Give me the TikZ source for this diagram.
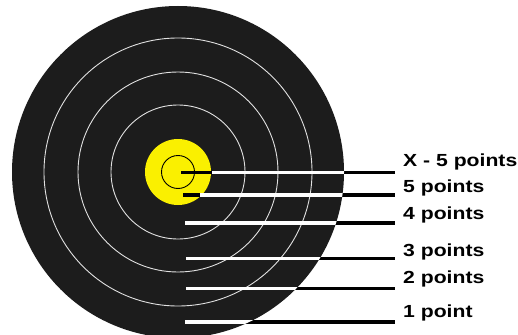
\documentclass[tikz,border=0pt]{standalone}
\usepackage{fontspec}
\setmainfont{Liberation Sans}
\definecolor{tblack}{RGB}{28,28,28}
\definecolor{tyellow}{RGB}{250,240,0}
\definecolor{ringw}{RGB}{225,225,225}
\begin{document}
\begin{tikzpicture}[x=1pt,y=-1pt,
  ring/.style={draw=ringw,line width=0.9pt},
  blk/.style={draw=black,line width=3.3pt},
  wht/.style={draw=white,line width=3.3pt},
  lbl/.style={anchor=base west,inner sep=0pt,font=\fontsize{17.5}{20}\selectfont\bfseries}]
\useasboundingbox (0,0) rectangle (518,334);
\fill[white] (0,0) rectangle (518,334);
\coordinate (c) at (178,172);
% target
\fill[tblack] (c) circle[radius=166];
\draw[ring] (c) circle[radius=134];
\draw[ring] (c) circle[radius=100];
\draw[ring] (c) circle[radius=67];
\fill[tyellow] (c) circle[radius=33];
\draw[black,line width=0.9pt] (c) circle[radius=16.5];
% labels
\node[lbl] (lx) at (403,166) {\scalebox{1.21}[1]{X - 5 points}};
\node[lbl] (l5) at (403,192) {\scalebox{1.21}[1]{5 points}};
\node[lbl] (l4) at (403,219.5) {\scalebox{1.21}[1]{4 points}};
\node[lbl] (l3) at (403,256) {\scalebox{1.21}[1]{3 points}};
\node[lbl] (l2) at (403,283.5) {\scalebox{1.21}[1]{2 points}};
\node[lbl] (l1) at (403,317) {\scalebox{1.21}[1]{1 point}};
% line coordinates
\coordinate (sx) at (181,172.5); \coordinate (ex) at (395,172.5);
\coordinate (s5) at (183,195);   \coordinate (e5) at (395,195);
\coordinate (s4) at (185,223);   \coordinate (e4) at (395,223);
\coordinate (s3) at (186,258.5); \coordinate (e3) at (395,258.5);
\coordinate (s2) at (186,288.5); \coordinate (e2) at (395,288.5);
\coordinate (s1) at (185,322);   \coordinate (e1) at (395,322);
\coordinate (wx) at (212,172.5);
\coordinate (w5) at (200,195);
% black leaders
\draw[blk] (sx) -- (ex);
\draw[blk] (s5) -- (e5);
\draw[blk] (s4) -- (e4);
\draw[blk] (s3) -- (e3);
\draw[blk] (s2) -- (e2);
\draw[blk] (s1) -- (e1);
% white parts inside target
\begin{scope}
\clip (c) circle[radius=166];
\draw[wht] (wx) -- (ex);
\draw[wht] (w5) -- (e5);
\draw[wht] (s4) -- (e4);
\draw[wht] (s3) -- (e3);
\draw[wht] (s2) -- (e2);
\draw[wht] (s1) -- (e1);
\end{scope}
\end{tikzpicture}
\end{document}
